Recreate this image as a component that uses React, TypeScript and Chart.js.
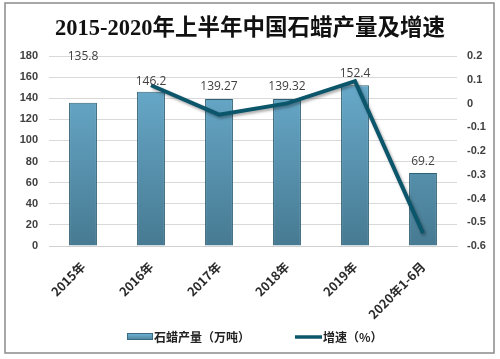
import React, { useEffect, useRef } from "react";
import { Chart, registerables } from "chart.js";

Chart.register(...registerables);

const categories = ["2015年", "2016年", "2017年", "2018年", "2019年", "2020年1-6月"];
const production = [135.8, 146.2, 139.27, 139.32, 152.4, 69.2];
const growth = [null, 0.077, -0.047, 0.0004, 0.094, -0.546];
const leftTicks = [0, 20, 40, 60, 80, 100, 120, 140, 160, 180];
const rightTicks = [-0.6, -0.5, -0.4, -0.3, -0.2, -0.1, 0, 0.1, 0.2];
const titleText = "2015-2020年上半年中国石蜡产量及增速";
const legendBar = "石蜡产量（万吨）";
const legendLine = "增速（%）";

const W = 500;
const H = 359;
const labelLift = [44, 8, 10, 10, 10, 9];

export default function App() {
  const ref = useRef<HTMLCanvasElement>(null);
  useEffect(() => {
    document.body.style.margin = "0";
    const canvas = ref.current!;
    const ctx = canvas.getContext("2d")!;

    const deco = {
      id: "deco",
      beforeDraw(chart: any) {
        const c = chart.ctx;
        c.save();
        c.fillStyle = "#ffffff";
        c.fillRect(0, 0, W, H);
        c.restore();
      },
      beforeDatasetDraw(chart: any, args: any) {
        if (args.index === 1) {
          chart.ctx.save();
          chart.ctx.shadowColor = "rgba(0,0,0,0.35)";
          chart.ctx.shadowBlur = 3;
          chart.ctx.shadowOffsetX = 1.5;
          chart.ctx.shadowOffsetY = 2;
        }
      },
      afterDatasetDraw(chart: any, args: any) {
        if (args.index === 1) chart.ctx.restore();
      },
      afterDraw(chart: any) {
        const c = chart.ctx;
        c.save();
        // title
        c.fillStyle = "#111111";
        c.font = "bold 22.5px 'Liberation Serif', 'Noto Sans CJK SC', serif";
        c.textAlign = "center";
        c.textBaseline = "middle";
        c.fillText(titleText, 250, 29);
        // bar value labels
        const meta = chart.getDatasetMeta(0);
        c.font = "12px 'Open Sans', 'Liberation Sans', sans-serif";
        c.fillStyle = "#404040";
        c.textBaseline = "bottom";
        meta.data.forEach((bar: any, i: number) => {
          c.fillText(String(production[i]), bar.x, bar.y - labelLift[i] + 4);
        });
        // legend
        const ly = 337;
        const g = c.createLinearGradient(0, ly - 3, 0, ly + 3);
        g.addColorStop(0, "#6cb0d2");
        g.addColorStop(1, "#4b8199");
        c.fillStyle = g;
        c.fillRect(127, ly - 3, 25, 6);
        c.strokeStyle = "#3a6a80";
        c.lineWidth = 1;
        c.strokeRect(127.5, ly - 3.5, 25, 6);
        c.fillStyle = "#222222";
        c.textAlign = "left";
        c.textBaseline = "middle";
        c.font = "bold 12px 'Noto Sans CJK SC', sans-serif";
        c.fillText(legendBar, 154, ly);
        c.strokeStyle = "#0b566b";
        c.lineWidth = 3.5;
        c.beginPath();
        c.moveTo(295, ly);
        c.lineTo(322, ly);
        c.stroke();
        c.fillText(legendLine, 323, ly);
        // frame
        c.strokeStyle = "#8a8a8a";
        c.lineWidth = 1.5;
        c.strokeRect(5, 3, 489, 350);
        c.restore();
      },
    };

    const chart = new Chart(ctx, {
      type: "bar",
      data: {
        labels: categories,
        datasets: [
          {
            type: "bar",
            label: legendBar,
            data: production,
            yAxisID: "y",
            backgroundColor: (context: any) => {
              const area = context.chart.chartArea;
              if (!area) return "#5a98b5";
              const gr = context.chart.ctx.createLinearGradient(0, area.top, 0, area.bottom);
              gr.addColorStop(0, "#6db1d3");
              gr.addColorStop(1, "#477a92");
              return gr;
            },
            borderColor: "#2f6075",
            borderWidth: 1,
            barPercentage: 0.41,
            categoryPercentage: 1,
            order: 2,
          },
          {
            type: "line",
            label: legendLine,
            data: growth as any,
            yAxisID: "y1",
            borderColor: "#0b566b",
            borderWidth: 4,
            pointRadius: 0,
            tension: 0,
            spanGaps: false,
            order: 1,
          },
        ],
      },
      options: {
        responsive: false,
        animation: false,
        layout: { padding: { top: 56, bottom: 0, left: 0, right: 0 } },
        plugins: {
          legend: { display: false },
          title: { display: false },
          tooltip: { enabled: false },
        },
        scales: {
          x: {
            grid: { display: false },
            border: { display: true, color: "#d0d0d0" },
            ticks: {
              maxRotation: 45,
              minRotation: 45,
              color: "#2a2a2a",
              font: { size: 12.5, weight: "bold", family: "'Noto Sans CJK SC', sans-serif" },
              padding: 5,
            },
            afterFit(scale: any) {
              scale.height = H - 246;
            },
          },
          y: {
            position: "left",
            min: 0,
            max: 180,
            afterBuildTicks(scale: any) {
              scale.ticks = leftTicks.map((v) => ({ value: v }));
            },
            grid: { color: "#d9d9d9", drawTicks: false },
            border: { display: false },
            ticks: {
              color: "#404040",
              padding: 11,
              font: { size: 11, weight: "bold", family: "'Liberation Sans', sans-serif" },
            },
            afterFit(scale: any) {
              scale.width = 49;
            },
          },
          y1: {
            position: "right",
            min: -0.6,
            max: 0.2,
            afterBuildTicks(scale: any) {
              scale.ticks = rightTicks.map((v) => ({ value: v }));
            },
            grid: { display: false, drawTicks: false },
            border: { display: false },
            ticks: {
              color: "#404040",
              padding: 10,
              font: { size: 11, weight: "bold", family: "'Liberation Sans', sans-serif" },
              callback: (v: any) => String(Math.round(Number(v) * 10) / 10),
            },
            afterFit(scale: any) {
              scale.width = W - 457;
            },
          },
        },
      },
      plugins: [deco],
    });
    return () => chart.destroy();
  }, []);

  return <canvas ref={ref} width={W} height={H} style={{ display: "block" }} />;
}
